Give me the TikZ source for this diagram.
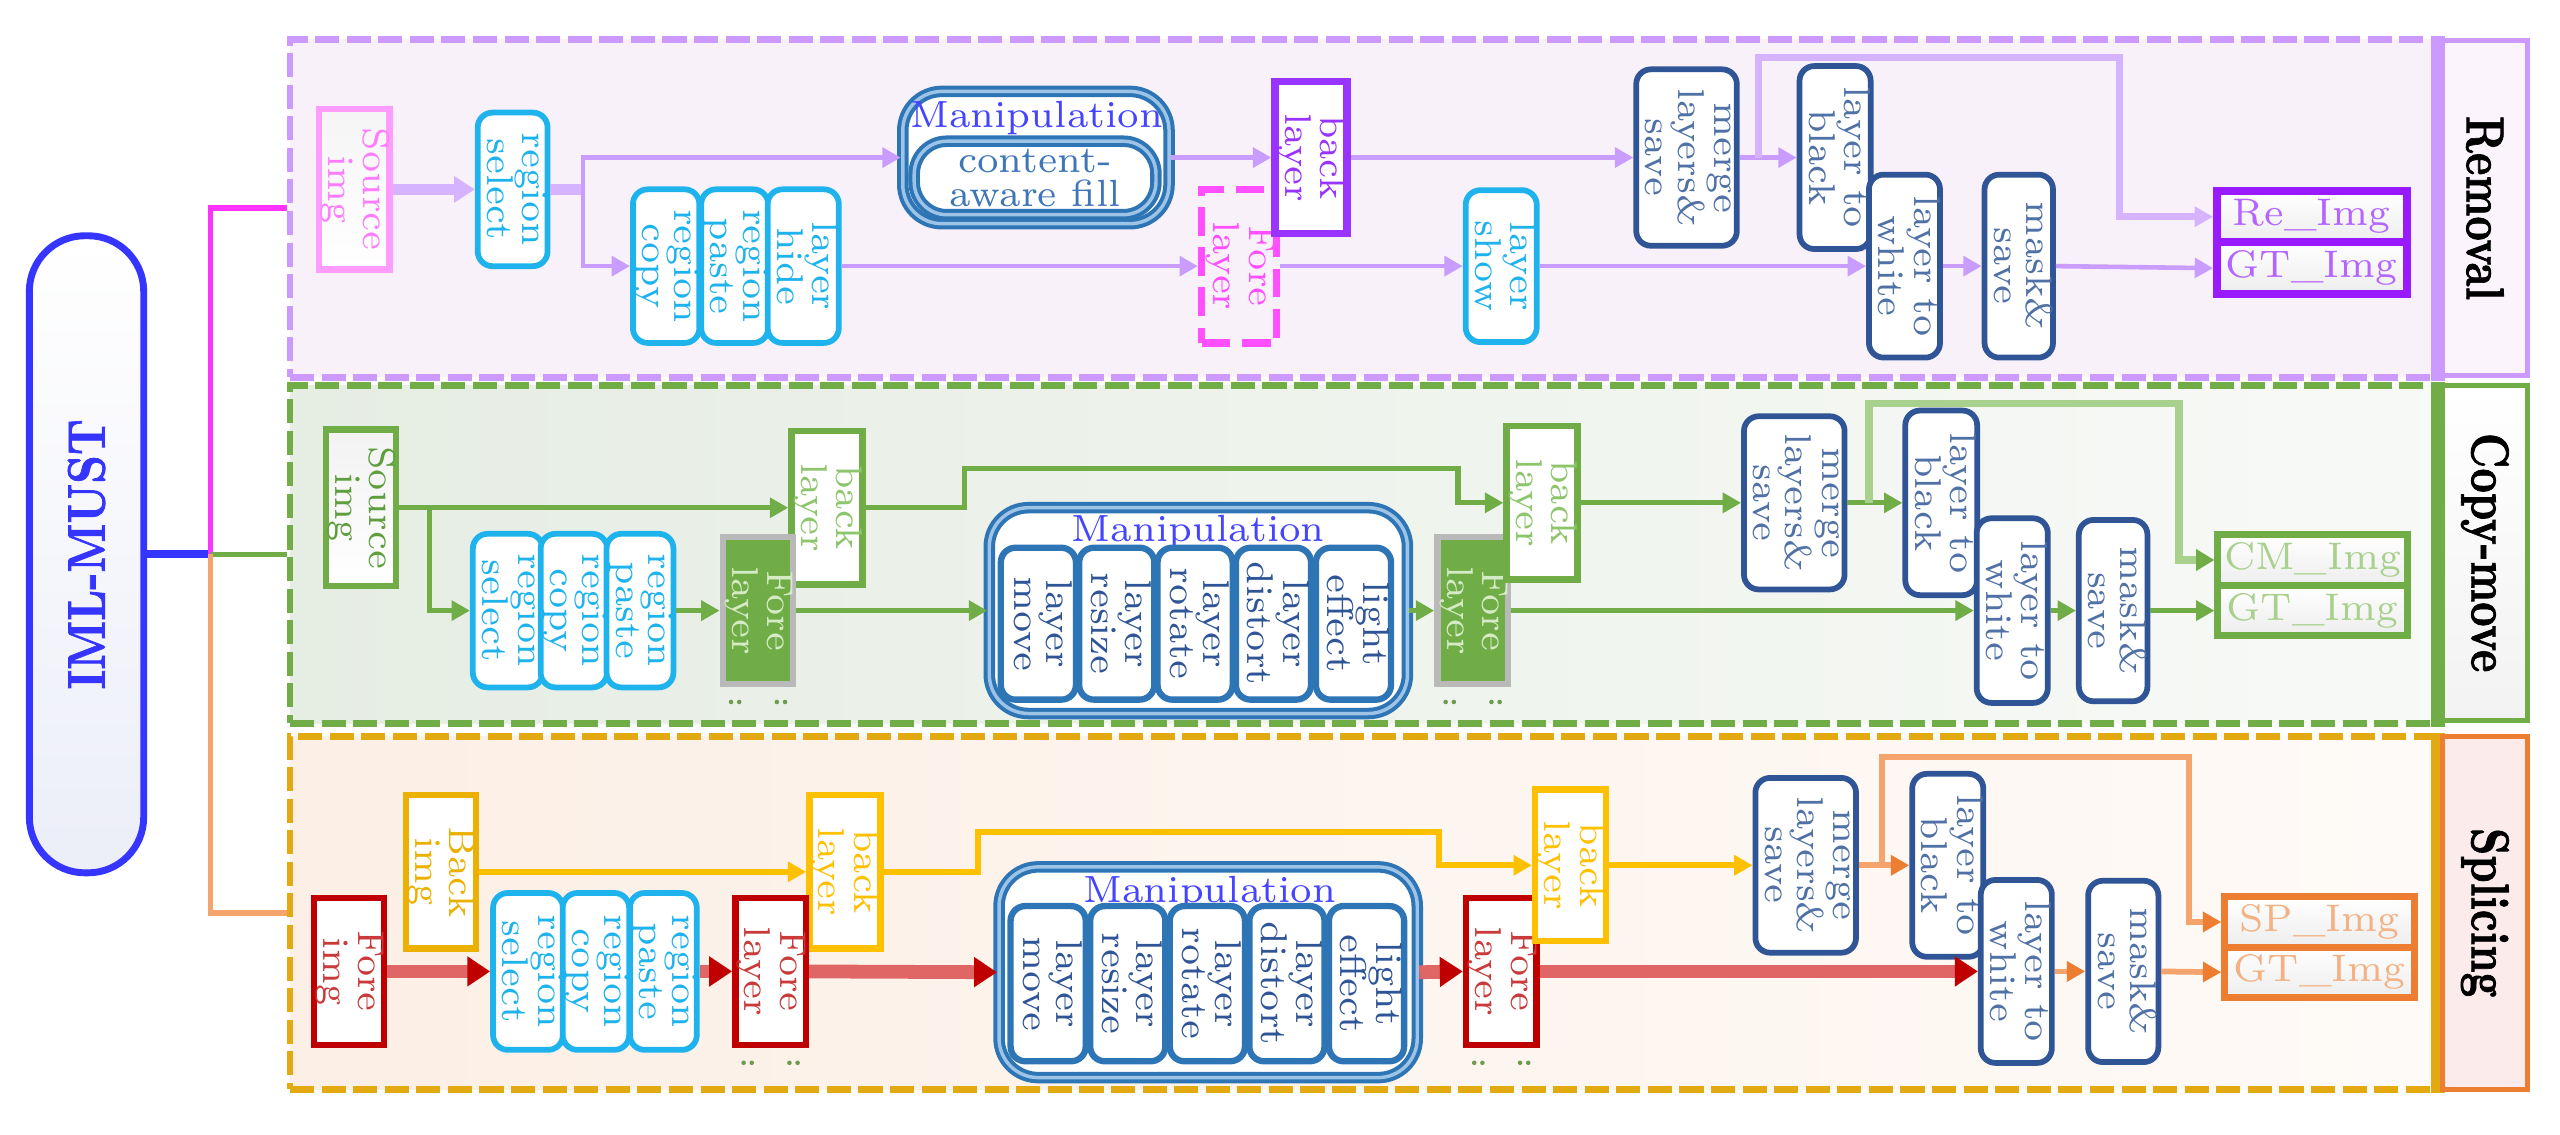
\documentclass[tikz,border=0pt]{standalone}
\usetikzlibrary{arrows.meta}

\definecolor{remline}{HTML}{CC99FF}
\definecolor{remfill}{HTML}{F9F1FA}
\definecolor{remlab}{HTML}{FBF4FC}
\definecolor{lilac}{HTML}{C99CFF}
\definecolor{lilthick}{HTML}{D6B3FF}
\definecolor{cmline}{HTML}{70AD47}
\definecolor{cmfill}{HTML}{E6EDE3}
\definecolor{cmtext}{HTML}{5E9E3E}
\definecolor{cmlight}{HTML}{8CC56B}
\definecolor{cmpale}{HTML}{A9D18E}
\definecolor{forelight}{HTML}{D5EBC6}
\definecolor{spline}{HTML}{E2AA10}
\definecolor{spfill}{HTML}{FCEFE5}
\definecolor{splab}{HTML}{FBEBEA}
\definecolor{boxcyan}{HTML}{1FB3EE}
\definecolor{navy}{HTML}{2F5597}
\definecolor{navytxt}{HTML}{4F71A6}
\definecolor{manblue}{HTML}{2E75B6}
\definecolor{manlight}{HTML}{9DC3E6}
\definecolor{mantitle}{HTML}{4545FF}
\definecolor{cafblue}{HTML}{3F76B8}
\definecolor{purpb}{HTML}{9933FF}
\definecolor{purpo}{HTML}{9A1AFF}
\definecolor{purpt}{HTML}{B565FF}
\definecolor{pinkb}{HTML}{FF9CFF}
\definecolor{pinkt}{HTML}{FF7CFF}
\definecolor{pinkd}{HTML}{FF4FFF}
\definecolor{redb}{HTML}{C00000}
\definecolor{redt}{HTML}{C93A3A}
\definecolor{redline}{HTML}{E06666}
\definecolor{goldb}{HTML}{EBB000}
\definecolor{goldl}{HTML}{FFC000}
\definecolor{orangeb}{HTML}{ED7D31}
\definecolor{orgline}{HTML}{F4A46C}
\definecolor{orangep}{HTML}{F4B183}
\definecolor{imlblue}{HTML}{3535FF}
\definecolor{imlfill}{HTML}{ECEEF8}
\definecolor{magentaln}{HTML}{FF33FF}
\definecolor{dotc}{HTML}{6E9B4E}

% heavy fonts for the labels
\font\labfont="[lmroman10-bold.otf]:embolden=1.5" at 9.3pt
\font\imlfont="[lmroman10-bold.otf]:embolden=1.5" at 9.2pt

% rotated text in the small boxes
\newcommand{\rtx}[1]{\rotatebox{-90}{\begin{tabular}{@{}c@{}}#1\end{tabular}}}
% rotated bold section label
\newcommand{\rlab}[1]{\rotatebox{-90}{\scalebox{0.8}[1]{\labfont #1}}}

\begin{document}
\begin{tikzpicture}[x=0.01cm,y=-0.01cm,
	ar/.style={-{Triangle[length=3.2pt,width=3.4pt]}},
	arr/.style={-{Triangle[length=4pt,width=5pt,color=redb]}},
	lil/.style={draw=lilac,line width=0.8pt},
	grn/.style={draw=cmline,line width=0.9pt},
	gld/.style={draw=goldl,line width=1pt},
	org/.style={draw=orgline,line width=1pt,-{Triangle[length=3.2pt,width=3.4pt,color=orangeb]}},
	redl/.style={draw=redline,line width=2.4pt},
	sec/.style={draw,line width=1.2pt,dash pattern=on 4.2pt off 1.3pt,inner sep=0pt,minimum width=13.13cm},
	lab/.style={draw,line width=0.9pt,inner sep=0pt,minimum width=5.2mm},
	box/.style={draw,line width=1pt,fill=white,inner sep=0pt,font=\fontsize{6.5}{5.6}\selectfont},
	imgb/.style={box,line width=1.1pt,minimum width=4.3mm,minimum height=9.4mm},
	rnd/.style={box,rounded corners=0.9mm},
	cyb/.style={rnd,draw=boxcyan,text=boxcyan,minimum width=4.05mm,minimum height=9.4mm},
	nvb/.style={rnd,draw=navy,text=navytxt,minimum width=4.2mm,minimum height=11.2mm},
	mrg/.style={nvb,minimum width=5.6mm,minimum height=10.7mm},
	manb/.style={draw=manblue,double=manlight,double distance=0.6pt,line width=0.7pt,fill=white,rounded corners=2.4mm,inner sep=0pt},
	opb/.style={rnd,draw=manblue,text=navy,line width=1.1pt,minimum width=4.6mm,minimum height=9.3mm},
	ttl/.style={text=mantitle,inner sep=0pt,font=\fontsize{6.6}{7}\selectfont},
	outc/.style={draw,line width=1.4pt,inner sep=0pt,minimum width=11.6mm,minimum height=3.15mm,top color=white,bottom color=gray!14,font=\fontsize{6.7}{7}\selectfont},
	forel/.style={imgb,draw=gray!55,fill=cmline,text=forelight,minimum width=4.15mm,minimum height=9mm}]

	\useasboundingbox (0,0) rectangle (1568,694.6);

	% sections
	\node 	(secrem)	at	(834.5,127.5)	[sec,draw=remline,fill=remfill,minimum height=20.7mm]{};
	\node 	(seccm)		at	(834.5,339.5)	[sec,draw=cmline,left color=cmfill,right color=cmfill!30,minimum height=20.7mm]{};
	\node 	(secsp)		at	(834.5,559)	[sec,draw=spline,left color=spfill,right color=spfill!30,minimum height=21.6mm]{};
	\draw[remline,line width=2.4pt]	(secrem.north east) -- (secrem.south east);
	\draw[cmline,line width=2.4pt]	(seccm.north east) -- (seccm.south east);
	\draw[spline,line width=2.4pt]	(secsp.north east) -- (secsp.south east);

	\node 	(labrem)	at	(1522,127.5)	[lab,draw=remline,fill=remlab,minimum height=20.5mm]{\rlab{Removal}};
	\node 	(labcm)		at	(1522,338.5)	[lab,draw=cmline,top color=white,bottom color=gray!10,minimum height=20.5mm]{\rlab{Copy-move}};
	\node 	(labsp)		at	(1522,559)	[lab,draw=orangeb,fill=splab,minimum height=21.6mm]{\rlab{Splicing}};

	% root
	\node 	(iml)		at	(53,339.5)	[draw=imlblue,line width=1.2pt,rounded corners=3.4mm,minimum width=7mm,minimum height=39mm,inner sep=0pt,top color=white,bottom color=imlfill,text=imlblue]{\rotatebox{90}{\scalebox{0.85}[1]{\imlfont IML-MUST}}};
	\coordinate (jn) at (129,339.5);
	\draw[imlblue,line width=1.4pt]	(iml.east) -- (jn);
	\draw[magentaln,line width=1pt]	(jn) |- (secrem.west);
	\draw[cmline,line width=0.8pt]	(jn) -- (seccm.west);
	\draw[orgline,line width=1pt]	(jn) |- (secsp.west);

	% removal
	\node 	(src1)		at	(217,116)	[imgb,draw=pinkb,text=pinkt,top color=gray!8,bottom color=white,minimum height=9.8mm]{\rtx{Source\\img}};
	\node 	(rsel1)		at	(314,116)	[cyb]{\rtx{region\\select}};
	\node 	(rcopy1)	at	(408,163)	[cyb]{\rtx{region\\copy}};
	\node 	(rpaste1)	at	(450,163)	[cyb]{\rtx{region\\paste}};
	\node 	(lhide1)	at	(492,163)	[cyb]{\rtx{layer\\hide}};
	\node 	(manip1)	at	(634.5,96.5)	[manb,minimum width=16.3mm,minimum height=8.1mm]{};
	\node 	(mtitle1)	at	(635,72)	[ttl]{Manipulation};
	\node 	(caf)		at	(634,109)	[manb,rounded corners=2mm,minimum width=14.8mm,minimum height=4.5mm,text=cafblue,align=center,font=\fontsize{6.6}{5.8}\selectfont]{content-\\aware fill};
	\node 	(fore1)		at	(759,163)	[imgb,draw=pinkd,text=pinkd,fill=remfill,line width=1.3pt,dash pattern=on 5pt off 2pt,minimum width=4.6mm]{\rtx{Fore\\layer}};
	\node 	(back1)		at	(803,96.5)	[imgb,draw=purpb,text=purpb,line width=1.3pt,minimum width=4.4mm,minimum height=9.3mm]{\rtx{back\\layer}};
	\node 	(show1)		at	(919.5,163)	[cyb,minimum width=4.1mm,minimum height=9.3mm]{\rtx{layer\\show}};
	\node 	(merge1)	at	(1033,96.5)	[mrg,minimum height=10.8mm]{\rtx{merge\\layers\&\\save}};
	\node 	(black1)	at	(1124,96.5)	[nvb]{\rtx{layer to\\black}};
	\node 	(white1)	at	(1166.5,163)	[nvb,minimum width=4.1mm]{\rtx{layer to\\white}};
	\node 	(mask1)		at	(1236.5,163)	[nvb,minimum width=4.1mm]{\rtx{mask\&\\save}};
	\node 	(re1)		at	(1416,132.75)	[outc,draw=purpo,text=purpt]{Re\_Img};
	\node 	(gt1)		at	(1416,164.25)	[outc,draw=purpo,text=purpt]{GT\_Img};

	\coordinate (r1) at (357,116);
	\coordinate (r2) at (1077,96.5);
	\coordinate (r3) at (1298,35);
	\draw[draw=lilthick,line width=1.8pt,-{Triangle[length=3.6pt,width=4.4pt]}]	(src1.east) -- (rsel1.west);
	\draw[draw=lilthick,line width=1.8pt]	(rsel1.east) -- (r1);
	\draw[lil,ar]	(r1) |- (manip1.west);
	\draw[lil,ar]	(r1) |- (rcopy1.west);
	\draw[lil,ar]	(lhide1.east) -- (fore1.west);
	\draw[lil,ar]	(manip1.east) -- (back1.west);
	\draw[lil,ar]	(fore1.east) -- (show1.west);
	\draw[lil,ar]	(back1.east) -- (merge1.west);
	\draw[lil,ar]	(show1.east) -- (white1.west);
	\draw[lil,ar]	(merge1.east) -- (black1.west);
	\draw[draw=lilthick,line width=1.2pt,ar]	(r2) |- (r3) |- (re1.west);
	\draw[lil,ar]	(white1.east) -- (mask1.west);
	\draw[lil,ar]	(mask1.east) -- (gt1.west);

	% copy-move
	\node 	(src2)		at	(221,311)	[imgb,draw=cmline,text=cmtext,top color=gray!10,bottom color=white,minimum width=4.2mm,minimum height=9.6mm]{\rtx{Source\\img}};
	\node 	(back2a)	at	(506.5,311)	[imgb,draw=cmline,text=cmlight]{\rtx{back\\layer}};
	\node 	(rsel2)		at	(311,374)	[cyb]{\rtx{region\\select}};
	\node 	(rcopy2)	at	(351.5,374)	[cyb]{\rtx{region\\copy}};
	\node 	(rpaste2)	at	(392,374)	[cyb]{\rtx{region\\paste}};
	\node 	(fore2a)	at	(464.3,374)	[forel]{\rtx{Fore\\layer}};
	\node 	(manip2)	at	(734,374)	[manb,minimum width=25.6mm,minimum height=12.6mm]{};
	\node 	(mtitle2)	at	(734,326)	[ttl]{Manipulation};
	\node 	(lmove2)	at	(636,382)	[opb]{\rtx{layer\\move}};
	\node 	(lresize2)	at	(684,382)	[opb]{\rtx{layer\\resize}};
	\node 	(lrotate2)	at	(732,382)	[opb]{\rtx{layer\\rotate}};
	\node 	(ldistort2)	at	(780,382)	[opb]{\rtx{layer\\distort}};
	\node 	(light2)	at	(829,382)	[opb]{\rtx{light\\effect}};
	\node 	(fore2b)	at	(902,374)	[forel]{\rtx{Fore\\layer}};
	\node 	(back2b)	at	(944.5,308)	[imgb,draw=cmline,text=cmlight]{\rtx{back\\layer}};
	\node 	(merge2)	at	(1099,308)	[mrg,minimum height=10.6mm]{\rtx{merge\\layers\&\\save}};
	\node 	(black2)	at	(1189,308)	[nvb,minimum width=4.4mm,minimum height=11.3mm]{\rtx{layer to\\black}};
	\node 	(white2)	at	(1232.5,374)	[nvb,minimum width=4.3mm,minimum height=11.3mm]{\rtx{layer to\\white}};
	\node 	(mask2)		at	(1294.3,374)	[nvb,minimum height=11.1mm]{\rtx{mask\&\\save}};
	\node 	(cm2)		at	(1416.5,343)	[outc,draw=cmline,text=cmpale,line width=1.2pt,minimum height=3.1mm]{CM\_Img};
	\node 	(gt2)		at	(1416.5,374)	[outc,draw=cmline,text=cmpale,line width=1.2pt,minimum height=3.1mm]{GT\_Img};

	\coordinate (c1) at (263,311);
	\coordinate (c2) at (591,287);
	\coordinate (c3) at (893,308);
	\coordinate (c4) at (1144.7,308);
	\coordinate (c5) at (1334.5,247);
	\draw[grn,ar]	(src2.east) -- (back2a.west);
	\draw[grn,ar]	(c1) |- (rsel2.west);
	\draw[grn,ar]	(rpaste2.east) -- (fore2a.west);
	\draw[grn,ar]	(fore2a.east) -- (manip2.west);
	\draw[grn,ar]	(manip2.east) -- (fore2b.west);
	\draw[grn,ar]	(back2a.east) -| (c2) -| (c3) -- (back2b.west);
	\draw[grn,ar]	(back2b.east) -- (merge2.west);
	\draw[grn,ar]	(merge2.east) -- (black2.west);
	\draw[draw=cmpale,line width=1.3pt,-{Triangle[length=3.2pt,width=3.6pt,color=cmline]}]	(c4) |- (c5) |- (cm2.west);
	\draw[grn,ar]	(fore2b.east) -- (white2.west);
	\draw[grn,ar]	(white2.east) -- (mask2.west);
	\draw[grn,ar]	(mask2.east) -- (gt2.west);

	% splicing
	\node 	(foreimg)	at	(213.7,595)	[imgb,draw=redb,text=redt,minimum height=9mm]{\rtx{Fore\\img}};
	\node 	(backimg)	at	(270,534)	[imgb,draw=goldb,text=goldb]{\rtx{Back\\img}};
	\node 	(back3a)	at	(517.5,534)	[imgb,draw=goldl,text=goldl]{\rtx{back\\layer}};
	\node 	(rsel3)		at	(323.4,595)	[cyb,minimum height=9.6mm]{\rtx{region\\select}};
	\node 	(rcopy3)	at	(365,595)	[cyb,minimum height=9.6mm]{\rtx{region\\copy}};
	\node 	(rpaste3)	at	(406.3,595)	[cyb,minimum height=9.6mm]{\rtx{region\\paste}};
	\node 	(fore3a)	at	(472,595)	[imgb,draw=redb,text=redt,minimum width=4.2mm,minimum height=9mm]{\rtx{Fore\\layer}};
	\node 	(manip3)	at	(740,595.5)	[manb,minimum width=25.6mm,minimum height=12.9mm]{};
	\node 	(mtitle3)	at	(741,547)	[ttl]{Manipulation};
	\node 	(lmove3)	at	(642,602.5)	[opb,minimum height=9.5mm]{\rtx{layer\\move}};
	\node 	(lresize3)	at	(690.75,602.5)	[opb,minimum height=9.5mm]{\rtx{layer\\resize}};
	\node 	(lrotate3)	at	(739.5,602.5)	[opb,minimum height=9.5mm]{\rtx{layer\\rotate}};
	\node 	(ldistort3)	at	(788.25,602.5)	[opb,minimum height=9.5mm]{\rtx{layer\\distort}};
	\node 	(light3)	at	(837,602.5)	[opb,minimum height=9.5mm]{\rtx{light\\effect}};
	\node 	(fore3b)	at	(919.5,595)	[imgb,draw=redb,text=redt,minimum width=4.3mm,minimum height=9mm]{\rtx{Fore\\layer}};
	\node 	(back3b)	at	(962,530)	[imgb,draw=goldl,text=goldl,minimum width=4.2mm,minimum height=9.3mm]{\rtx{back\\layer}};
	\node 	(merge3)	at	(1106,530)	[mrg]{\rtx{merge\\layers\&\\save}};
	\node 	(black3)	at	(1193,530)	[nvb,minimum width=4mm]{\rtx{layer to\\black}};
	\node 	(white3)	at	(1235,595)	[nvb,minimum width=4.1mm]{\rtx{layer to\\white}};
	\node 	(mask3)		at	(1300.5,595)	[nvb,minimum width=4.3mm,minimum height=11.1mm]{\rtx{mask\&\\save}};
	\node 	(sp3)		at	(1420.7,564.7)	[outc,draw=orangeb,text=orangep,line width=1.2pt,minimum height=3.08mm]{SP\_Img};
	\node 	(gt3)		at	(1420.7,595.5)	[outc,draw=orangeb,text=orangep,line width=1.2pt,minimum height=3.08mm]{GT\_Img};

	\coordinate (s1) at (599,509.4);
	\coordinate (s2) at (881.4,530);
	\coordinate (s3) at (1152.6,530);
	\coordinate (s4) at (1340.8,463.5);
	\draw[gld,ar]	(backimg.east) -- (back3a.west);
	\draw[gld,ar]	(back3a.east) -| (s1) -| (s2) -- (back3b.west);
	\draw[gld,ar]	(back3b.east) -- (merge3.west);
	\draw[org]	(merge3.east) -- (black3.west);
	\draw[org]	(s3) |- (s4) |- (sp3.west);
	\draw[redl,arr]	(foreimg.east) -- (rsel3.west);
	\draw[redl,arr]	(rpaste3.east) -- (fore3a.west);
	\draw[redl,arr]	(fore3a.east) -- (manip3.west);
	\draw[redl,arr]	(manip3.east) -- (fore3b.west);
	\draw[redl,arr]	(fore3b.east) -- (white3.west);
	\draw[org]	(white3.east) -- (mask3.west);
	\draw[org]	(mask3.east) -- (gt3.west);

	% little marks under the fore layers
	\foreach \n in {fore2a,fore2b,fore3a,fore3b}
		\fill[dotc] ([xshift=0.7mm,yshift=-0.9mm]\n.south west) circle (1.4) ++(5,0) circle (1.4)
			([xshift=-0.7mm,yshift=-0.9mm]\n.south east) circle (1.4) ++(-5,0) circle (1.4);

\end{tikzpicture}
\end{document}
